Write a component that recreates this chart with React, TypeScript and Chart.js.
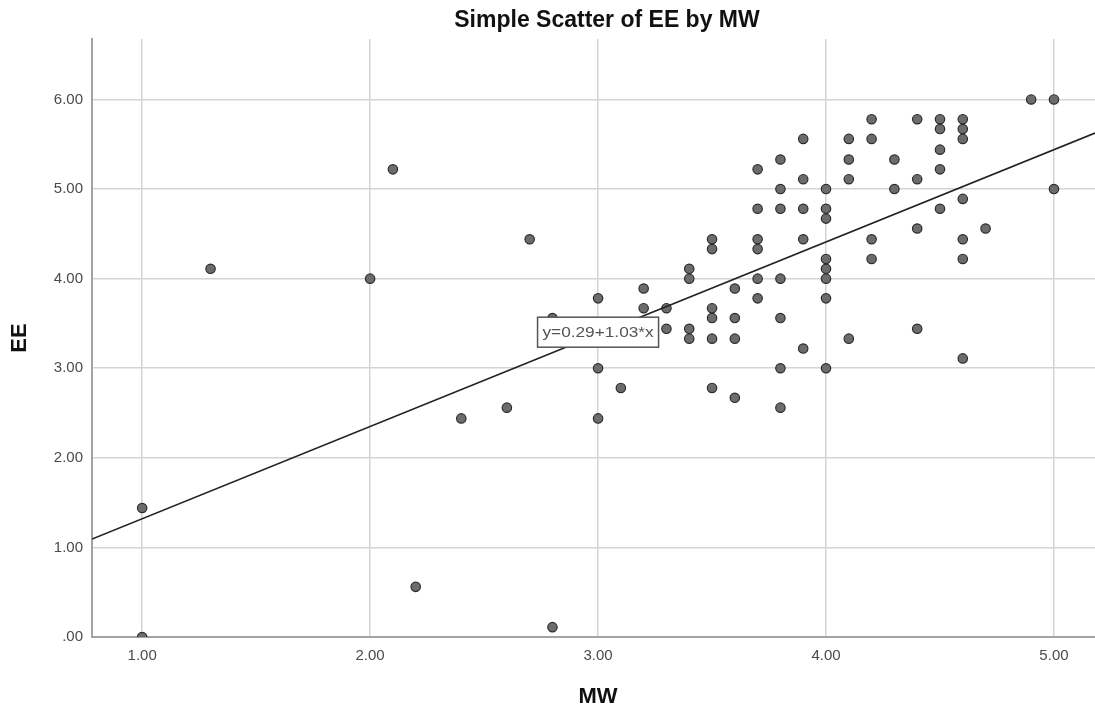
import React, { useEffect, useRef } from "react";
import { Chart, registerables } from "chart.js";

Chart.register(...registerables);

// MW (x) and EE (y) values, column by column
const MW = [
  1.0, 1.0, 1.3, 2.0, 2.1, 2.2, 2.4, 2.6, 2.7, 2.8, 2.8,
  3.0, 3.0, 3.0,
  3.1,
  3.2, 3.2,
  3.3, 3.3,
  3.4, 3.4, 3.4, 3.4,
  3.5, 3.5, 3.5, 3.5, 3.5, 3.5,
  3.6, 3.6, 3.6, 3.6,
  3.7, 3.7, 3.7, 3.7, 3.7, 3.7,
  3.8, 3.8, 3.8, 3.8, 3.8, 3.8, 3.8,
  3.9, 3.9, 3.9, 3.9, 3.9,
  4.0, 4.0, 4.0, 4.0, 4.0, 4.0, 4.0, 4.0,
  4.1, 4.1, 4.1, 4.1,
  4.2, 4.2, 4.2, 4.2,
  4.3, 4.3,
  4.4, 4.4, 4.4, 4.4,
  4.5, 4.5, 4.5, 4.5, 4.5,
  4.6, 4.6, 4.6, 4.6, 4.6, 4.6, 4.6,
  4.7,
  4.9,
  5.0, 5.0,
];

const EE = [
  1.44, 0.0, 4.11, 4.0, 5.22, 0.56, 2.44, 2.56, 4.44, 3.56, 0.11,
  3.78, 3.0, 2.44,
  2.78,
  3.89, 3.67,
  3.67, 3.44,
  4.11, 4.0, 3.44, 3.33,
  4.44, 4.33, 3.67, 3.56, 3.33, 2.78,
  3.89, 3.56, 3.33, 2.67,
  5.22, 4.78, 4.44, 4.33, 4.0, 3.78,
  5.33, 5.0, 4.78, 4.0, 3.56, 3.0, 2.56,
  5.56, 5.11, 4.78, 4.44, 3.22,
  5.0, 4.78, 4.67, 4.22, 4.11, 4.0, 3.78, 3.0,
  5.56, 5.33, 5.11, 3.33,
  5.78, 5.56, 4.44, 4.22,
  5.33, 5.0,
  5.78, 5.11, 4.56, 3.44,
  5.78, 5.67, 5.44, 5.22, 4.78,
  5.78, 5.67, 5.56, 4.89, 4.44, 4.22, 3.11,
  4.56,
  6.0,
  6.0, 5.0,
];

const X_TICKS = [1, 2, 3, 4, 5];
const X_TICK_LABELS = ["1.00", "2.00", "3.00", "4.00", "5.00"];
const Y_TICKS = [0, 1, 2, 3, 4, 5, 6];
const Y_TICK_LABELS = [".00", "1.00", "2.00", "3.00", "4.00", "5.00", "6.00"];

const X_MIN = 0.78;
const X_MAX = 5.18;
const Y_MIN = 0;
const Y_MAX = 6.675;

const FIT_INTERCEPT = 0.29;
const FIT_SLOPE = 1.03;
const FIT_LABEL = "y=0.29+1.03*x";
const FIT_LABEL_AT = 3.0;

const TITLE = "Simple Scatter of EE by MW";
const X_TITLE = "MW";
const Y_TITLE = "EE";

const FONT = "'Liberation Sans', Arial, sans-serif";

const textPlugin = {
  id: "spssText",
  afterDatasetsDraw(chart: any) {
    const { ctx, scales } = chart;
    const xs = scales.x;
    const ys = scales.y;
    const px = xs.getPixelForValue(FIT_LABEL_AT);
    const py = ys.getPixelForValue(FIT_INTERCEPT + FIT_SLOPE * FIT_LABEL_AT) - 2;
    const w = 121;
    const h = 30;
    ctx.save();
    ctx.fillStyle = "#ffffff";
    ctx.fillRect(px - w / 2, py - h / 2, w, h);
    ctx.strokeStyle = "#555555";
    ctx.lineWidth = 1.5;
    ctx.strokeRect(px - w / 2, py - h / 2, w, h);
    ctx.translate(px, py + 1);
    ctx.scale(1.15, 1);
    ctx.fillStyle = "#555555";
    ctx.font = `15px ${FONT}`;
    ctx.textAlign = "center";
    ctx.textBaseline = "middle";
    ctx.fillText(FIT_LABEL, 0, 0);
    ctx.restore();
  },
  afterDraw(chart: any) {
    const { ctx } = chart;
    ctx.save();
    ctx.fillStyle = "#111111";
    ctx.textAlign = "center";
    ctx.textBaseline = "middle";
    ctx.font = `bold 23px ${FONT}`;
    ctx.fillText(TITLE, 607, 21);
    ctx.font = `bold 22px ${FONT}`;
    ctx.fillText(X_TITLE, 598, 697);
    ctx.translate(20, 338);
    ctx.rotate(-Math.PI / 2);
    ctx.fillText(Y_TITLE, 0, 0);
    ctx.restore();
  },
};

export default function App() {
  const ref = useRef<HTMLCanvasElement | null>(null);

  useEffect(() => {
    if (!ref.current) return;
    const points = MW.map((x, i) => ({ x, y: EE[i] }));
    const fit = [
      { x: X_MIN, y: FIT_INTERCEPT + FIT_SLOPE * X_MIN },
      { x: X_MAX, y: FIT_INTERCEPT + FIT_SLOPE * X_MAX },
    ];
    const chart = new Chart(ref.current, {
      type: "scatter",
      data: {
        datasets: [
          {
            type: "line",
            data: fit,
            showLine: true,
            borderColor: "#222222",
            borderWidth: 1.6,
            pointRadius: 0,
            fill: false,
          } as any,
          {
            data: points,
            pointRadius: 4.7,
            pointBackgroundColor: "#6c6c6c",
            pointBorderColor: "#2c2c2c",
            pointBorderWidth: 1.2,
          },
        ],
      },
      options: {
        responsive: false,
        animation: false,
        events: [],
        layout: { autoPadding: false, padding: { top: 39, right: 0, left: 0, bottom: 0 } },
        plugins: {
          legend: { display: false },
          tooltip: { enabled: false },
          title: { display: false },
        },
        scales: {
          x: {
            type: "linear",
            min: X_MIN,
            max: X_MAX,
            afterBuildTicks: (s: any) => {
              s.ticks = X_TICKS.map((v) => ({ value: v }));
            },
            afterFit: (s: any) => {
              s.height = 73;
              s.paddingRight = 0;
              s.paddingLeft = 0;
            },
            ticks: {
              autoSkip: false,
              maxRotation: 0,
              padding: 10,
              color: "#4a4a4a",
              font: { family: FONT, size: 15 },
              callback: (v: any) => X_TICK_LABELS[X_TICKS.indexOf(Number(v))] ?? "",
            },
            grid: { color: "#d4d4d4", lineWidth: 1.5, drawTicks: false },
            border: { color: "#a3a3a3", width: 2 },
          },
          y: {
            type: "linear",
            min: Y_MIN,
            max: Y_MAX,
            afterBuildTicks: (s: any) => {
              s.ticks = Y_TICKS.map((v) => ({ value: v }));
            },
            afterFit: (s: any) => {
              s.width = 92;
              s.paddingTop = 0;
              s.paddingBottom = 0;
            },
            ticks: {
              autoSkip: false,
              padding: 9,
              color: "#4a4a4a",
              font: { family: FONT, size: 15 },
              callback: (v: any) => Y_TICK_LABELS[Y_TICKS.indexOf(Number(v))] ?? "",
            },
            grid: { color: "#d4d4d4", lineWidth: 1.5, drawTicks: false },
            border: { color: "#a3a3a3", width: 2 },
          },
        },
      },
      plugins: [textPlugin],
    });
    return () => chart.destroy();
  }, []);

  return (
    <div style={{ position: "absolute", left: 0, top: 0, width: 1095, height: 710, background: "#fff" }}>
      <canvas ref={ref} width={1095} height={710} style={{ display: "block" }} />
    </div>
  );
}
